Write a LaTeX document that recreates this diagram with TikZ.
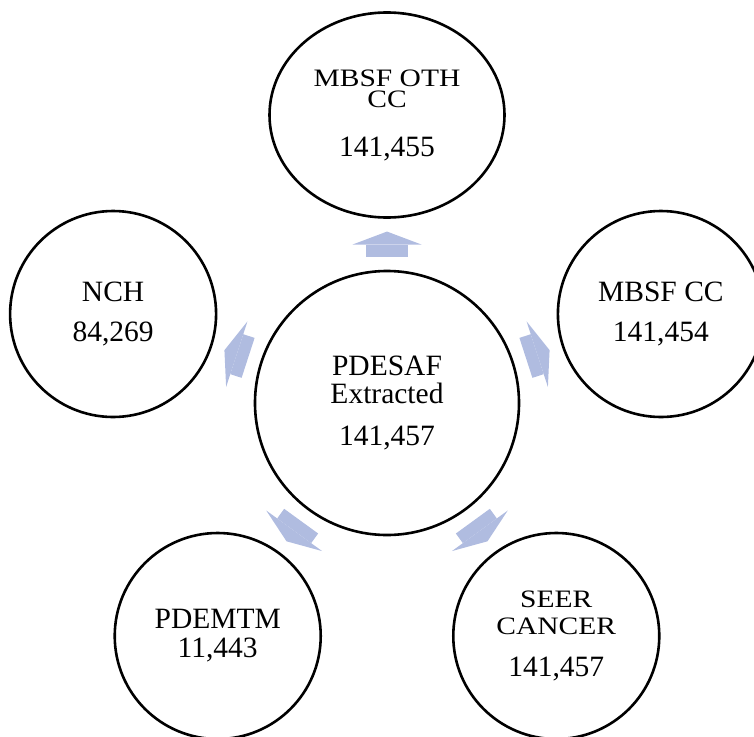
\documentclass[tikz,border=0pt]{standalone}
\usepackage{fontspec}
\setmainfont{Liberation Serif}
\usepackage{graphicx}
\usepackage{tikz}
\usetikzlibrary{arrows.meta,shapes.geometric,calc}
\definecolor{flowblue}{RGB}{176,188,224}
\tikzset{
  hub/.style  = {draw, circle, line width=2.6pt, minimum size=264pt, inner sep=0pt, align=center, font=\fontsize{29.5pt}{28pt}\selectfont},
  leaf/.style = {draw, circle, line width=2.6pt, minimum size=206pt, inner sep=0pt, align=center, font=\fontsize{29.5pt}{40pt}\selectfont},
  feed/.style = {draw=flowblue, line width=42pt, shorten <=12.75pt, shorten >=12.75pt,
                 -{Triangle[length=13pt 0 0, width=69pt 0 0, line width=0pt]}},
}
\newcommand{\squash}[1]{\scalebox{1}[0.85]{#1}}

\begin{document}
\begin{tikzpicture}[x=1pt, y=1pt]
  \useasboundingbox (0,0) rectangle (754,-736);
  \clip (0,0) rectangle (754,-736);
  \node[hub] (pdesaf) at (387,-403) {PDESAF\\Extracted\\[14pt]141,457};
  \node[leaf, ellipse, minimum width=235pt, minimum height=205pt, font=\fontsize{29.5pt}{21pt}\selectfont] (oth) at ($(pdesaf)+(90:288pt)$) {\squash{MBSF OTH}\\\squash{CC}\\[28pt]141,455};
  \node[leaf] (mbsfcc) at ($(pdesaf)+(18:288pt)$) {MBSF CC\\141,454};
  \node[leaf] (nch) at ($(pdesaf)+(162:288pt)$) {NCH\\84,269};
  \node[leaf, font=\fontsize{29.5pt}{29pt}\selectfont] (pdemtm) at ($(pdesaf)+(234:288pt)$) {PDEMTM\\11,443};
  \node[leaf, font=\fontsize{29.5pt}{27pt}\selectfont] (seer) at ($(pdesaf)+(306:288pt)$) {\squash{SEER}\\\squash{CANCER}\\[15pt]141,457};
  % block arrows out of the hub
  \foreach \n in {oth,mbsfcc,seer,pdemtm,nch}
    \draw[feed] (pdesaf) -- (\n);
\end{tikzpicture}
\end{document}
